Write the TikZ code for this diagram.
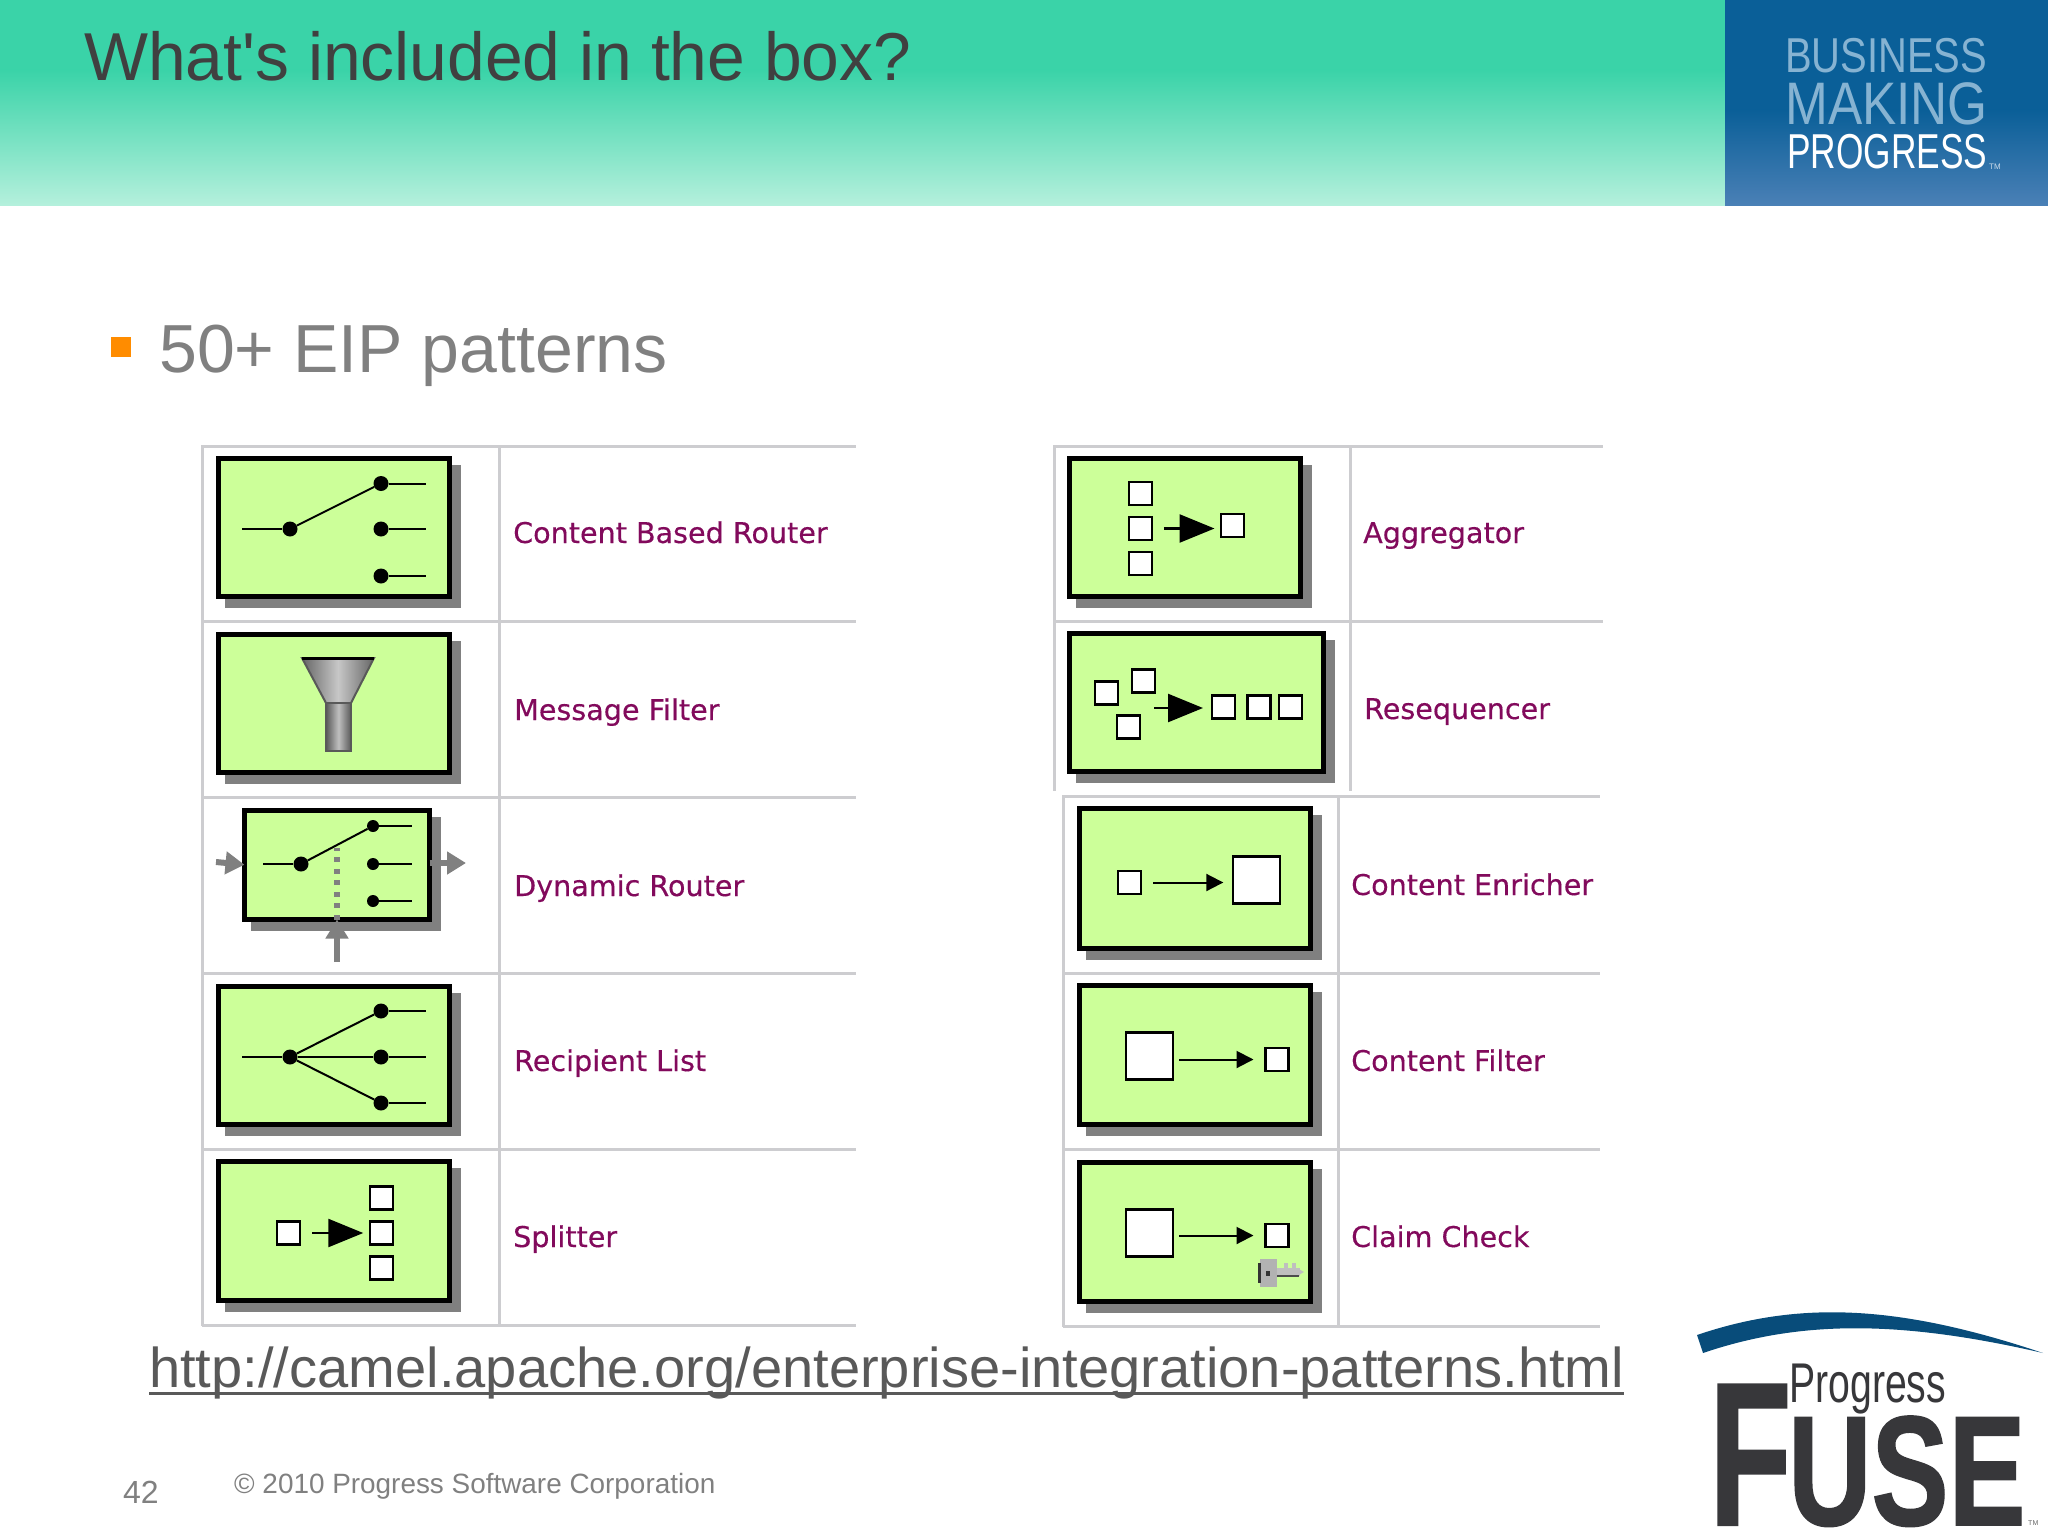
\documentclass[tikz,border=0pt]{standalone}
\usepackage{fontspec}
\usepackage{graphicx}
\setmainfont{Liberation Sans}
\newfontfamily\patfont{DejaVu Sans}[FakeBold=0.35]
\newfontfamily\fusefont{Liberation Sans}[FakeBold=1.2]
\usetikzlibrary{arrows.meta,positioning,shadows}
\definecolor{patgreen}{HTML}{CCFF99}
\definecolor{patshadow}{HTML}{808080}
\definecolor{patgrid}{HTML}{CDCDD0}
\definecolor{patlabel}{HTML}{820A5C}
\definecolor{headgreen}{HTML}{3AD3A8}
\definecolor{headpale}{HTML}{B4F0DC}
\definecolor{headblue}{HTML}{0A5F98}
\definecolor{headsky}{HTML}{4A80B6}
\definecolor{headtext}{HTML}{86B3D2}
\definecolor{fusegray}{HTML}{37373A}
\tikzset{
    every picture/.style={x=1pt,y=-1pt,node distance=12pt},
    gridline/.style={patgrid,line width=3pt},
    patbox/.style={draw=black,fill=patgreen,line width=5pt,inner sep=0pt,outer sep=0pt,
        minimum width=231pt,minimum height=138pt,
        drop shadow={shadow xshift=9pt,shadow yshift=-9pt,fill=patshadow,draw=patshadow,line width=5pt,opacity=1}},
    patlbl/.style={anchor=base west,inner sep=0pt,text=patlabel,font=\patfont\fontsize{28.6}{28.6}\selectfont},
    portdot/.style={circle,fill=black,inner sep=0pt,minimum size=15pt},
    msgbox/.style={draw=black,fill=white,line width=2.2pt,inner sep=0pt,outer sep=0pt,minimum size=23pt},
    bigmsg/.style={msgbox,minimum size=47pt},
    wire/.style={line width=2pt},
    bigarrow/.style={line width=2.5pt,-{Triangle[length=35pt,width=28pt]},shorten <=12pt,shorten >=6.5pt},
    thinarrow/.style={line width=2pt,-{Triangle[length=17pt,width=17pt]}},
    grayarrow/.style={patshadow,line width=6pt,-{Triangle[length=19pt,width=22pt]}},
    slidetxt/.style={anchor=base west,inner sep=0pt}
}
\begin{document}
\begin{tikzpicture}
    \useasboundingbox (0,0) rectangle (2048,1536);
    % header band
    \fill[headgreen] (0,0) rectangle (1725,70);
    \shade[top color=headgreen,bottom color=headpale] (0,70) rectangle (1725,205);
    \fill[headblue] (1725,0) rectangle (2048,110);
    \shade[top color=headblue,bottom color=headsky] (1725,110) rectangle (2048,205);
    \node[slidetxt,text=black!75,font=\fontsize{67.8}{67.8}\selectfont] (title) at (84,81) {What\textquotesingle s included in the box?};
    \node[slidetxt,text=headtext,font=\fontsize{49}{49}\selectfont] (bus) at (1785,73) {\scalebox{0.815}[1]{BUSINESS}};
    \node[slidetxt,text=headtext,font=\fontsize{60}{60}\selectfont] (mak) at (1785,125) {\scalebox{0.856}[1]{MAKING}};
    \node[slidetxt,text=white,font=\fontsize{49}{49}\selectfont] (prg) at (1787,168) {\scalebox{0.72}[1]{PROGRESS}};
    \node[slidetxt,text=white!70!headsky,font=\fontsize{8}{8}\selectfont] (tm) at (1989,169) {TM};
    % bullet
    \fill[orange!90!yellow] (111,337) rectangle (131,357);
    \node[slidetxt,text=black!50,font=\fontsize{68}{68}\selectfont] (bullet) at (159,372) {50+ EIP patterns};

    % left table
    \foreach \y in {446,621,797,973,1149,1325}
        \draw[gridline] (202,\y) -- (856,\y);
    \draw[gridline] (202,445) -- (202,1326);
    \draw[gridline] (499,445) -- (499,1326);
    % right table, upper part
    \foreach \y in {446,621}
        \draw[gridline] (1054,\y) -- (1603,\y);
    \draw[gridline] (1054,445) -- (1054,791);
    \draw[gridline] (1350,445) -- (1350,791);
    % right table, lower part
    \foreach \y in {796,973,1149,1326}
        \draw[gridline] (1063,\y) -- (1600,\y);
    \draw[gridline] (1063,795) -- (1063,1327);
    \draw[gridline] (1338,795) -- (1338,1327);

    % content based router
    \node[patbox] (cbr) at (334,527.5) {};
    \coordinate (cbrin) at (242,529);
    \node[portdot] (cbrc) at (290,529) {};
    \node[portdot] (cbra) at (381,483.5) {};
    \node[portdot] (cbrb) at (381,529) {};
    \node[portdot] (cbrd) at (381,576) {};
    \coordinate (cbrao) at (426,483.5);
    \coordinate (cbrbo) at (426,529);
    \coordinate (cbrdo) at (426,576);
    \path[wire] (cbrin) edge (cbrc)
                (cbrc) edge (cbra)
                (cbra) edge (cbrao)
                (cbrb) edge (cbrbo)
                (cbrd) edge (cbrdo);
    \node[patlbl] (cbrl) at (513,543) {Content Based Router};

    % message filter
    \node[patbox] (mf) at (334,703.5) {};
    \shade[draw=black!65,line width=2pt,left color=black!60,right color=black!60,middle color=black!22]
        (302,658) -- (374,658) -- (351,703) -- (326,703) -- cycle;
    \shade[draw=black!65,line width=2pt,left color=black!65,right color=black!65,middle color=black!25]
        (326,703) rectangle (351,751);
    \draw[black,line width=3pt] (302,658) -- (374,658);
    \node[patlbl] (mfl) at (514,720) {Message Filter};

    % dynamic router
    \coordinate (drw) at (216,862);
    \coordinate (dre) at (466,863);
    \coordinate (drs) at (337,962);
    \coordinate (drk) at (337,848);
    \node[patbox,minimum width=185pt,minimum height=109.5pt] (dr) at (337,864.75) {};
    \draw[grayarrow] (drw) -- (dr.west);
    \draw[grayarrow] (dr.east |- dre) -- (dre);
    \draw[grayarrow] (drs) -- (dr.south);
    \draw[patshadow,line width=6pt,dash pattern=on 5pt off 6.5pt] (dr.south) -- (drk);
    \coordinate (drin) at (263,864);
    \node[portdot] (drc) at (301,864) {};
    \node[portdot,minimum size=12pt] (dra) at (373,826) {};
    \node[portdot,minimum size=12pt] (drb) at (373,864) {};
    \node[portdot,minimum size=12pt] (drd) at (373,901) {};
    \coordinate (drao) at (412,826);
    \coordinate (drbo) at (412,864);
    \coordinate (drdo) at (412,901);
    \path[wire] (drin) edge (drc)
                (drc) edge (dra)
                (dra) edge (drao)
                (drb) edge (drbo)
                (drd) edge (drdo);
    \node[patlbl] (drl) at (514,896) {Dynamic Router};

    % recipient list
    \node[patbox] (rl) at (334,1055.5) {};
    \coordinate (rlin) at (242,1057);
    \node[portdot] (rlc) at (290,1057) {};
    \node[portdot] (rla) at (381,1011) {};
    \node[portdot] (rlb) at (381,1057) {};
    \node[portdot] (rld) at (381,1103) {};
    \coordinate (rlao) at (426,1011);
    \coordinate (rlbo) at (426,1057);
    \coordinate (rldo) at (426,1103);
    \path[wire] (rlin) edge (rlc)
                (rlc) edge (rla)
                (rlc) edge (rlb)
                (rlc) edge (rld)
                (rla) edge (rlao)
                (rlb) edge (rlbo)
                (rld) edge (rldo);
    \node[patlbl] (rll) at (514,1071) {Recipient List};

    % splitter
    \node[patbox,minimum height=139pt] (sp) at (334,1231) {};
    \node[msgbox] (sp0) at (288.5,1233) {};
    \node[msgbox] (sp2) at (381.25,1233) {};
    \node[msgbox] (sp1) [above=of sp2] {};
    \node[msgbox] (sp3) [below=of sp2] {};
    \path[bigarrow] (sp0) edge (sp2);
    \node[patlbl] (spl) at (513,1247) {Splitter};

    % aggregator
    \node[patbox] (ag) at (1185,527.5) {};
    \node[msgbox] (ag2) at (1140.3,528.5) {};
    \node[msgbox] (ag1) [above=of ag2] {};
    \node[msgbox] (ag3) [below=of ag2] {};
    \node[msgbox] (ago) at (1232.5,525.75) {};
    \path[bigarrow] (ag2) edge (ag2 -| ago.west);
    \node[patlbl] (agl) at (1363,543) {Aggregator};

    % resequencer
    \node[patbox,minimum width=254pt] (rs) at (1196.5,702.5) {};
    \node[msgbox] (rsa) at (1106.5,693) {};
    \node[msgbox] (rsb) at (1143.5,681) {};
    \node[msgbox] (rsc) at (1128.7,727) {};
    \node[msgbox] (rsd) at (1223.5,707) {};
    \node[msgbox] (rse) at (1259,707) {};
    \node[msgbox] (rsf) at (1290.5,707) {};
    \coordinate (rsin) at (1154,708);
    \path[bigarrow,shorten <=0pt,shorten >=9pt] (rsin) edge (rsin -| rsd.west);
    \node[patlbl] (rsl) at (1364,719) {Resequencer};

    % content enricher
    \node[patbox,minimum height=140pt] (ce) at (1194.75,878.5) {};
    \node[msgbox] (cea) at (1129.5,882.5) {};
    \node[bigmsg] (ceb) at (1256.8,880) {};
    \path[thinarrow,shorten <=12pt,shorten >=10pt] (cea) edge (cea -| ceb.west);
    \node[patlbl] (cel) at (1351,895) {Content Enricher};

    % content filter
    \node[patbox,minimum height=139pt] (cf) at (1194.75,1055) {};
    \node[bigmsg] (cfa) at (1149.5,1056) {};
    \node[msgbox] (cfb) at (1277,1059.5) {};
    \path[thinarrow,shorten <=6pt,shorten >=12pt] (cfb -| cfa.east) edge (cfb);
    \node[patlbl] (cfl) at (1351,1071) {Content Filter};

    % claim check
    \node[patbox,minimum height=139pt] (cc) at (1194.75,1232) {};
    \node[bigmsg] (cca) at (1149.5,1233) {};
    \node[msgbox] (ccb) at (1277,1235.5) {};
    \path[thinarrow,shorten <=6pt,shorten >=12pt] (ccb -| cca.east) edge (ccb);
    \fill[black!25] (1270,1268) rectangle (1300,1276);
    \fill[black!25] (1297,1268) -- (1304,1272) -- (1297,1276) -- cycle;
    \fill[black!25] (1284,1263) rectangle (1288,1268);
    \fill[black!25] (1292,1263) rectangle (1296,1268);
    \fill[black!70] (1274,1275) rectangle (1299,1277);
    \fill[black!30] (1260,1259) rectangle (1277,1287);
    \fill[black!80] (1258,1263) rectangle (1261,1283);
    \fill[black!80] (1266,1271) rectangle (1270,1276);
    \node[patlbl] (ccl) at (1351,1247) {Claim Check};

    % link and footer
    \node[slidetxt,text=black!65,font=\fontsize{56.1}{56.1}\selectfont] (url) at (149,1387) {http://camel.apache.org/enterprise-integration-patterns.html};
    \draw[black!65,line width=3pt] ([yshift=-6pt]url.base west) -- ([yshift=-6pt]url.base east);
    \node[slidetxt,text=black!50,font=\fontsize{32}{32}\selectfont] (page) at (123,1503) {42};
    \node[slidetxt,text=black!50,font=\fontsize{27.9}{27.9}\selectfont] (copy) at (234,1493) {© 2010 Progress Software Corporation};

    % logo
    \fill[headblue!80!black] (1697,1335) .. controls (1800,1300) and (1900,1305) .. (2043,1353)
        .. controls (1900,1320) and (1800,1320) .. (1703,1353) -- cycle;
    \node[slidetxt,text=fusegray,font=\fontsize{56}{56}\selectfont] (lgp) at (1789,1402) {\scalebox{0.7}[1]{Progress}};
    \node[slidetxt,text=fusegray,font=\fusefont\bfseries\fontsize{204}{204}\selectfont] (lgf) at (1709,1525) {\scalebox{0.66}[1]{F}};
    \node[slidetxt,text=fusegray,font=\fusefont\bfseries\fontsize{156}{156}\selectfont] (lgu) at (1788,1525) {\scalebox{0.74}[1]{USE}};
    \node[slidetxt,text=black!60,font=\fontsize{7}{7}\selectfont] (lgt) at (2028,1525) {TM};
\end{tikzpicture}
\end{document}
